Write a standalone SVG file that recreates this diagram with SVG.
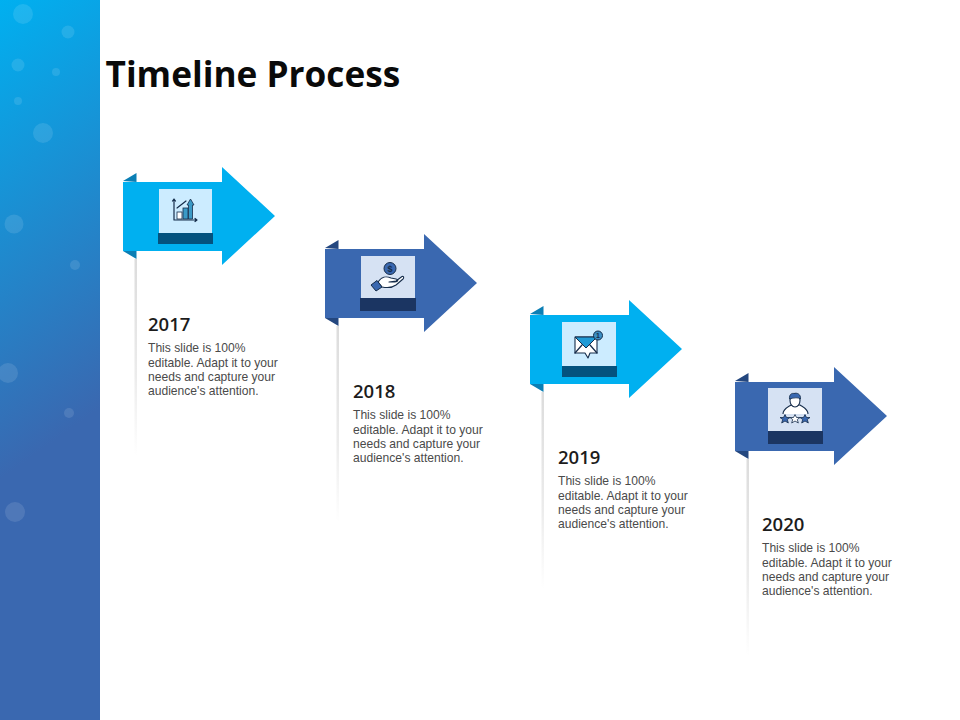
<svg xmlns="http://www.w3.org/2000/svg" xmlns:xlink="http://www.w3.org/1999/xlink" width="960" height="720" viewBox="0 0 960 720">
<style>
.title{font:700 35.2px "Open Sans",sans-serif;fill:#0a0a0a}
.year{font:600 18.500px "Open Sans",sans-serif;fill:#1c1c1c}
.body{font:12.100px "Liberation Sans",Arial,sans-serif;fill:#4a4a4a}
.bub{fill:#fff;fill-opacity:.11}
.ln{fill:none;stroke:#152c4a;stroke-width:1.2;stroke-linejoin:round;stroke-linecap:round}
</style>
<defs>
<linearGradient id="side" x1="0" y1="0" x2="0.1" y2="1"><stop offset="0" stop-color="#00b0f0"/><stop offset=".66" stop-color="#3a68b0"/><stop offset="1" stop-color="#3a68b0"/></linearGradient>
<linearGradient id="sh" x1="0" y1="0" x2="0" y2="1"><stop offset="0" stop-color="#dcdcdc"/><stop offset=".6" stop-color="#ececec"/><stop offset="1" stop-color="#fff"/></linearGradient>
<g id="frame">
<rect x="134.500" y="259" width="2.500" height="197" fill="url(#sh)"/>
</g>
</defs>
<rect width="960" height="720" fill="#fff"/>
<g id="sidebar">
<rect width="100" height="720" fill="url(#side)"/>
<circle class="bub" cx="23" cy="14" r="10"/><circle class="bub" cx="68" cy="32" r="6.5"/><circle class="bub" cx="18" cy="65" r="6.5"/><circle class="bub" cx="56" cy="72" r="4"/><circle class="bub" cx="18" cy="101" r="4"/><circle class="bub" cx="43" cy="133" r="10"/><circle class="bub" cx="14" cy="224" r="9.5"/><circle class="bub" cx="75" cy="265" r="5"/><circle class="bub" cx="8" cy="373" r="10"/><circle class="bub" cx="69" cy="413" r="5"/><circle class="bub" cx="15" cy="512" r="10"/>
</g>
<text class="title" x="105.500" y="87">Timeline Process</text>
<g id="step-2017">
<use xlink:href="#frame"/>
<path d="M123 181L136.500 173V182Z" fill="#0b7fb5"/><path d="M123 251L136.500 259V251Z" fill="#0b7fb5"/>
<path d="M123 182H222V167L275 216L222 265V251H123Z" fill="#00b0f0"/>
<rect x="159" y="189" width="53" height="44" fill="#ccecff"/><rect x="158" y="233" width="55" height="11" fill="#04527e"/>
<path class="ln" d="M174 199V220H197M172.500 201L174 199L175.500 201M195 218.500L197 220L195 221.500"/>
<rect x="177" y="212" width="5" height="7" fill="#fff" stroke="#152c4a" stroke-width=".8"/><rect x="183" y="208" width="5" height="11" fill="#3b9ac6" stroke="#152c4a" stroke-width=".8"/><path d="M188.500 219V205H187L190.500 199L194 205H192.500V219Z" fill="#3b9ac6" stroke="#152c4a" stroke-width=".8"/>
<path class="ln" d="M177 208L186 201" stroke-width=".8"/>
<text class="year" x="148" y="331">2017</text>
<text class="body"><tspan x="148" y="352.400">This slide is 100%</tspan><tspan x="148" y="366.700">editable. Adapt it to your</tspan><tspan x="148" y="381">needs and capture your</tspan><tspan x="148" y="395.300">audience's attention.</tspan></text>
</g>
<g id="step-2018">
<g transform="translate(202 67)"><use xlink:href="#frame"/><path d="M123 181L136.500 173V182Z" fill="#24477f"/><path d="M123 251L136.500 259V251Z" fill="#24477f"/>
<path d="M123 182H222V167L275 216L222 265V251H123Z" fill="#3a68b0"/>
<rect x="159" y="189" width="54" height="42" fill="#d6e2f3"/><rect x="158" y="231" width="56" height="13" fill="#1b3562"/></g>
<circle cx="390" cy="268.500" r="6" fill="#3a68b0" stroke="#152c4a"/>
<text x="390" y="272" text-anchor="middle" style="font:700 9px 'Liberation Sans',sans-serif;fill:#152c4a">$</text>
<path d="M378 282C382 276 386 276 391 278L396 279C399 280 398 282 395 282L389 282L396 281L402 276.500C404 276 404 278 403 279L396 285C392 288 387 288 382 287Z" fill="#fff" stroke="#152c4a" stroke-width="1.100" stroke-linejoin="round"/>
<path d="M371 285L377 280.500L382 287L376 291Z" fill="#3a68b0" stroke="#152c4a"/>
<text class="year" x="353" y="398">2018</text>
<text class="body"><tspan x="353" y="419.400">This slide is 100%</tspan><tspan x="353" y="433.700">editable. Adapt it to your</tspan><tspan x="353" y="448">needs and capture your</tspan><tspan x="353" y="462.300">audience's attention.</tspan></text>
</g>
<g id="step-2019">
<g transform="translate(407 133)"><use xlink:href="#frame"/><path d="M123 181L136.500 173V182Z" fill="#0b7fb5"/><path d="M123 251L136.500 259V251Z" fill="#0b7fb5"/>
<path d="M123 182H222V167L275 216L222 265V251H123Z" fill="#00b0f0"/>
<rect x="155" y="189" width="54" height="44" fill="#ccecff"/><rect x="155" y="233" width="55" height="11" fill="#04527e"/></g>
<path d="M575 337H597V353H590L588 358L585 353H575Z" fill="#fff" stroke="#152c4a" stroke-width="1.100" stroke-linejoin="round"/>
<path d="M575 337H597L586 348Z" fill="#1f9ad6" stroke="#152c4a" stroke-width="1"/>
<path class="ln" d="M575 353L582 345M597 353L590 345" stroke-width=".8"/>
<circle cx="598" cy="335.500" r="4.500" fill="#3b8fc4" stroke="#152c4a"/>
<text x="598" y="338" text-anchor="middle" style="font:700 7px 'Liberation Sans',sans-serif;fill:#152c4a">1</text>
<text class="year" x="558" y="464">2019</text>
<text class="body"><tspan x="558" y="485.400">This slide is 100%</tspan><tspan x="558" y="499.700">editable. Adapt it to your</tspan><tspan x="558" y="514">needs and capture your</tspan><tspan x="558" y="528.300">audience's attention.</tspan></text>
</g>
<g id="step-2020">
<g transform="translate(612 200)"><use xlink:href="#frame"/><path d="M123 181L136.500 173V182Z" fill="#24477f"/><path d="M123 251L136.500 259V251Z" fill="#24477f"/>
<path d="M123 182H222V167L275 216L222 265V251H123Z" fill="#3a68b0"/>
<rect x="156" y="188" width="54" height="43" fill="#d6e2f3"/><rect x="156" y="231" width="55" height="13" fill="#1b3562"/></g>
<path d="M783 414C783 409 788 407 791 405H800C803 407 808 409 808 414" fill="#fff" stroke="#152c4a" stroke-width="1.100"/>
<ellipse cx="795" cy="400.500" rx="5" ry="6.500" fill="#fff" stroke="#152c4a" stroke-width="1.100"/>
<path d="M789.500 399C789 394 792 393 794 393.500C797 392.500 801 394 800.500 399C798 397 793 398 789.500 399Z" fill="#3a68b0" stroke="#152c4a" stroke-width=".8"/>
<path d="M785 414.500L786.500 417.500H790L787.300 419.500L788.300 423L785 421L781.700 423L782.700 419.500L780 417.500H783.500Z" fill="#3a68b0" stroke="#152c4a" stroke-width=".8"/>
<path d="M795 414.500L796.500 417.500H800L797.300 419.500L798.300 423L795 421L791.700 423L792.700 419.500L790 417.500H793.500Z" fill="#fff" stroke="#152c4a" stroke-width=".8"/>
<path d="M805 414.500L806.500 417.500H810L807.300 419.500L808.300 423L805 421L801.700 423L802.700 419.500L800 417.500H803.500Z" fill="#3a68b0" stroke="#152c4a" stroke-width=".8"/>
<text class="year" x="762" y="531">2020</text>
<text class="body"><tspan x="762" y="552.400">This slide is 100%</tspan><tspan x="762" y="566.700">editable. Adapt it to your</tspan><tspan x="762" y="581">needs and capture your</tspan><tspan x="762" y="595.300">audience's attention.</tspan></text>
</g>
</svg>
